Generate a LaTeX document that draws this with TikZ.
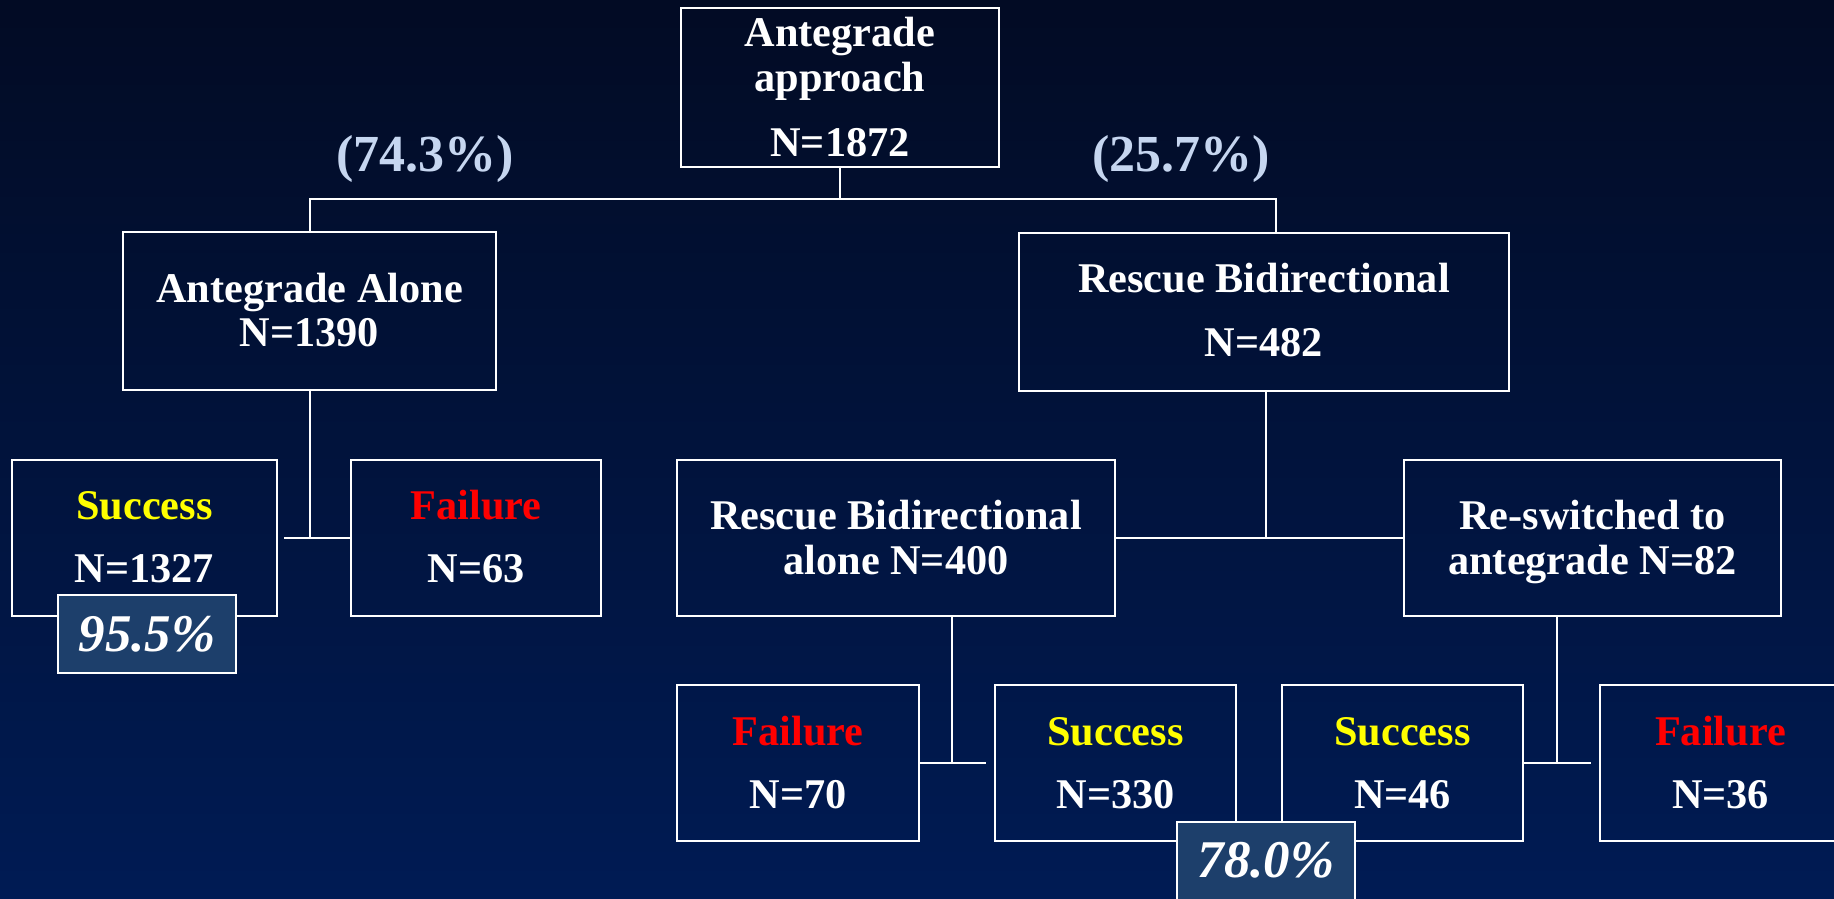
\documentclass[tikz,border=0pt]{standalone}
\usepackage{fontspec}
\setmainfont{Liberation Serif}
\definecolor{bgtop}{RGB}{2,11,36}
\definecolor{bgbot}{RGB}{0,27,84}
\definecolor{pctblue}{RGB}{198,214,240}
\definecolor{pctfill}{RGB}{29,63,107}
\definecolor{succ}{RGB}{255,255,0}
\definecolor{fail}{RGB}{255,0,0}
\begin{document}
\begin{tikzpicture}[x=1pt,y=-1pt,
  box/.style={draw=white, line width=2pt, inner sep=0pt},
  pctbox/.style={box, fill=pctfill},
  conn/.style={draw=white, line width=2pt},
  txt/.style={text=white, font=\fontsize{42.3}{44}\selectfont\bfseries, anchor=base, inner sep=0pt},
  pcttxt/.style={text=pctblue, font=\fontsize{52}{54}\selectfont\bfseries, anchor=base, inner sep=0pt},
  bigtxt/.style={text=white, font=\fontsize{53}{55}\selectfont\bfseries\itshape, anchor=base, inner sep=0pt}
]
\useasboundingbox (0,0) rectangle (1834,898);
\clip (0,0) rectangle (1834,898);
\shade[top color=bgtop, bottom color=bgbot] (0,0) rectangle (1834,898);

% boxes
\node[box, minimum width=318pt, minimum height=159pt] (top) at (840,87.5) {};
\node[box, minimum width=373pt, minimum height=158pt] (aa) at (309.5,311) {};
\node[box, minimum width=490pt, minimum height=158pt] (rb) at (1264,312) {};
\node[box, minimum width=265pt, minimum height=156pt] (s1327) at (144.5,538) {};
\node[box, minimum width=250pt, minimum height=156pt] (f63) at (476,538) {};
\node[box, minimum width=438pt, minimum height=156pt] (rba) at (896,538) {};
\node[box, minimum width=377pt, minimum height=156pt] (rsw) at (1592.5,538) {};
\node[box, minimum width=242pt, minimum height=156pt] (f70) at (798,763) {};
\node[box, minimum width=241pt, minimum height=156pt] (s330) at (1115.5,763) {};
\node[box, minimum width=241pt, minimum height=156pt] (s46) at (1402.5,763) {};
\node[box, minimum width=241pt, minimum height=156pt] (f36) at (1720.5,763) {};

% connectors
\coordinate (j1) at (840,199);
\draw[conn] (top.south) -- (j1);
\draw[conn] (j1) -| (aa.north);
\draw[conn] (j1) -| ([xshift=12pt]rb.north);
\coordinate (j2) at (284,538);
\draw[conn] (aa.south) -- (aa.south |- f63.west);
\draw[conn] (j2) -- (f63.west);
\draw[conn] ([xshift=2pt]rb.south) -- ([xshift=2pt]rb.south |- rba.east);
\draw[conn] (rba.east) -- (rsw.west);
\coordinate (j3) at (986,763);
\draw[conn] ([xshift=56pt]rba.south) -- ([xshift=56pt]rba.south |- f70.east);
\draw[conn] (f70.east) -- (j3);
\coordinate (j4) at (1591,763);
\draw[conn] ([xshift=-35.5pt]rsw.south) -- ([xshift=-35.5pt]rsw.south |- s46.east);
\draw[conn] (s46.east) -- (j4);

% texts
\node[txt] (t1) at (840,46) {Antegrade};
\node[txt] (t2) at (840,91) {approach};
\node[txt] (t3) at (840,156) {N=1872};
\node[pcttxt] (p1) at (425,171) {(74.3\%)};
\node[pcttxt] (p2) at (1181,171) {(25.7\%)};
\node[txt] (aat1) at (309.5,302) {Antegrade Alone};
\node[txt] (aat2) at (309.5,346) {N=1390};
\node[txt] (rbt1) at (1264,292) {Rescue Bidirectional};
\node[txt] (rbt2) at (1264,356) {N=482};
\node[txt, text=succ] (s1t1) at (144.5,519) {Success};
\node[txt] (s1t2) at (144.5,582) {N=1327};
\node[txt, text=fail] (f63t1) at (476,519) {Failure};
\node[txt] (f63t2) at (476,582) {N=63};
\node[txt] (rbat1) at (896,529) {Rescue Bidirectional};
\node[txt] (rbat2) at (896,574) {alone N=400};
\node[txt] (rswt1) at (1592.5,529) {Re-switched to};
\node[txt] (rswt2) at (1592.5,574) {antegrade N=82};
\node[txt, text=fail] (f70t1) at (798,745) {Failure};
\node[txt] (f70t2) at (798,808) {N=70};
\node[txt, text=succ] (s330t1) at (1115.5,745) {Success};
\node[txt] (s330t2) at (1115.5,808) {N=330};
\node[txt, text=succ] (s46t1) at (1402.5,745) {Success};
\node[txt] (s46t2) at (1402.5,808) {N=46};
\node[txt, text=fail] (f36t1) at (1720.5,745) {Failure};
\node[txt] (f36t2) at (1720.5,808) {N=36};

% percentage boxes
\node[pctbox, minimum width=178pt, minimum height=78pt] (p955) at (147,634) {};
\node[bigtxt] (p955t) at (147,651) {95.5\%};
\node[pctbox, minimum width=178pt, minimum height=80pt] (p780) at (1266,862) {};
\node[bigtxt] (p780t) at (1266,877) {78.0\%};
\end{tikzpicture}
\end{document}
